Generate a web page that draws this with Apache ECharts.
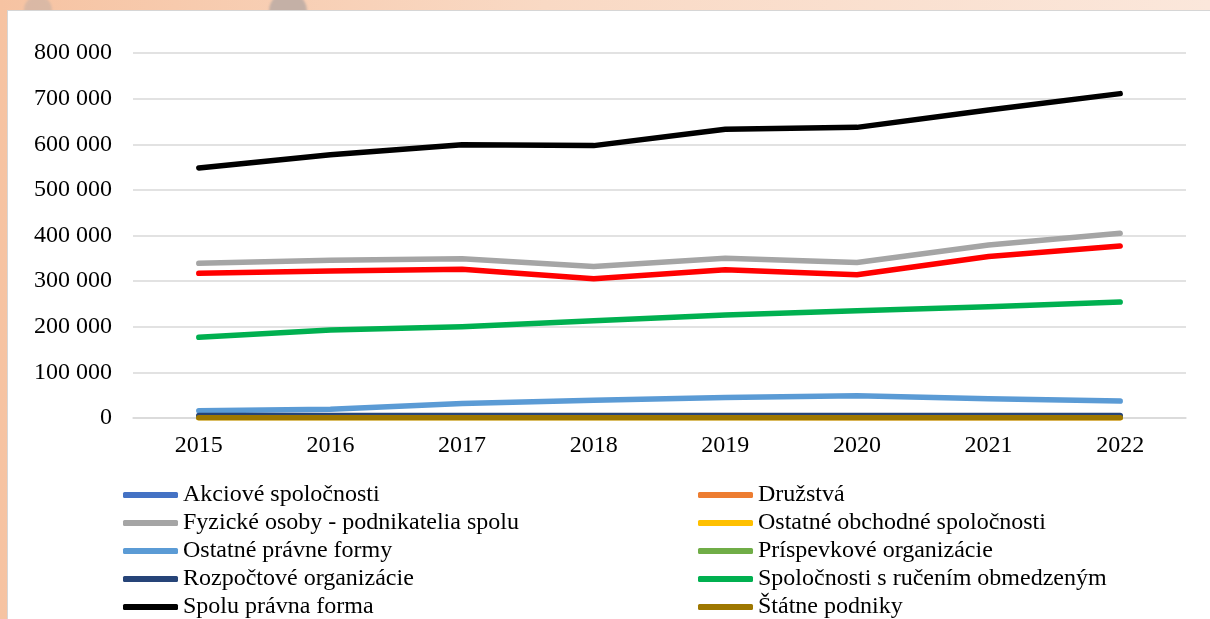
<!DOCTYPE html>
<html lang="sk">
<head>
<meta charset="utf-8">
<title>Počet subjektov podľa právnej formy 2015–2022</title>
<script src="https://cdn.jsdelivr.net/npm/echarts@6/dist/echarts.min.js"></script>
<style>
  html, body { margin: 0; padding: 0; }
  body {
    width: 1210px; height: 619px; overflow: hidden; position: relative;
    background: linear-gradient(90deg, #f6c3a2 0%, #f9d9c4 45%, #fbe7db 100%);
  }
  .blob { position: absolute; border-radius: 50%; background: #c4b0a6; filter: blur(1px); }
  .card {
    position: absolute; left: 7px; top: 10px; right: -2px; bottom: -2px;
    background: #ffffff; border: 1px solid #d6d6d6;
  }
  #chart { position: absolute; left: 0; top: 0; width: 1210px; height: 680px; }
</style>
</head>
<body>
<div class="blob" style="left:269px;top:-8px;width:38px;height:38px;"></div>
<div class="blob" style="left:24px;top:-4px;width:28px;height:28px;opacity:.55"></div>
<div class="card"></div>
<div id="chart"></div>
<script>
// Years on the category axis
const years = ['2015', '2016', '2017', '2018', '2019', '2020', '2021', '2022'];

// Value axis ticks
const yMin = 0;
const yMax = 800000;
const yStep = 100000;

// Series values per legal form
const akcioveSpolocnosti      = [3000, 3000, 3100, 3200, 3200, 3300, 3300, 3400];
const druzstva                = [1500, 1500, 1400, 1400, 1400, 1300, 1300, 1300];
const fyzickeOsobySpolu       = [339000, 346000, 349000, 332000, 350000, 341000, 379000, 405000];
const ostatneObchodne         = [600, 600, 600, 700, 700, 700, 700, 700];
const ostatnePravneFormy      = [16000, 19000, 32000, 39000, 45000, 49000, 42000, 37000];
const prispevkoveOrganizacie  = [2000, 2000, 2000, 2000, 2000, 2000, 2000, 2000];
const rozpoctoveOrganizacie   = [5500, 5500, 5600, 5600, 5600, 5700, 5700, 5700];
const spolocnostiSRO          = [177000, 193000, 200000, 213000, 226000, 235000, 244000, 254000];
const spoluPravnaForma        = [548000, 577000, 599000, 597000, 633000, 637000, 675000, 711000];
const statnePodniky           = [800, 800, 800, 800, 700, 700, 700, 700];
const fyzickeOsobyZivnostnici = [317000, 322000, 326000, 305000, 325000, 314000, 354000, 377000];

// Legend columns
const legendLeft  = ['Akciové spoločnosti', 'Fyzické osoby - podnikatelia spolu', 'Ostatné právne formy', 'Rozpočtové organizácie', 'Spolu právna forma'];
const legendRight = ['Družstvá', 'Ostatné obchodné spoločnosti', 'Príspevkové organizácie', 'Spoločnosti s ručením obmedzeným', 'Štátne podniky'];

const serif = "'Liberation Serif', 'Times New Roman', serif";

function line(name, data, color) {
  return {
    name: name,
    type: 'line',
    data: data,
    symbol: 'none',
    showSymbol: false,
    smooth: false,
    lineStyle: { color: color, width: 5.5, cap: 'round', join: 'round' },
    itemStyle: { color: color },
    emphasis: { disabled: true },
    animation: false
  };
}

const fmt = v => String(v).replace(/\B(?=(\d{3})+(?!\d))/g, ' ');

const legendCommon = {
  orient: 'vertical',
  icon: 'roundRect',
  itemWidth: 55,
  itemHeight: 6,
  itemGap: 0,
  padding: 0,
  selectedMode: false,
  textStyle: { fontFamily: serif, fontSize: 24, color: '#000', lineHeight: 28 }
};

const chart = echarts.init(document.getElementById('chart'), null, { renderer: 'canvas' });
chart.setOption({
  backgroundColor: 'transparent',
  animation: false,
  grid: { left: 133, right: 24, top: 53, height: 365 },
  xAxis: {
    type: 'category',
    data: years,
    boundaryGap: true,
    axisLine: { show: true, lineStyle: { color: '#d9d9d9', width: 1.5 } },
    axisTick: { show: false },
    axisLabel: { fontFamily: serif, fontSize: 24, color: '#000', margin: 16 }
  },
  yAxis: {
    type: 'value',
    min: yMin,
    max: yMax,
    interval: yStep,
    axisLine: { show: false },
    axisTick: { show: false },
    splitLine: { lineStyle: { color: '#d9d9d9', width: 1.5 } },
    axisLabel: { fontFamily: serif, fontSize: 24, color: '#000', margin: 21, formatter: fmt }
  },
  legend: [
    Object.assign({ left: 123, top: 481, data: legendLeft }, legendCommon),
    Object.assign({ left: 698, top: 481, data: legendRight }, legendCommon)
  ],
  series: [
    line('Akciové spoločnosti', akcioveSpolocnosti, '#4472C4'),
    line('Družstvá', druzstva, '#ED7D31'),
    line('Fyzické osoby - podnikatelia spolu', fyzickeOsobySpolu, '#A5A5A5'),
    line('Ostatné obchodné spoločnosti', ostatneObchodne, '#FFC000'),
    line('Ostatné právne formy', ostatnePravneFormy, '#5B9BD5'),
    line('Príspevkové organizácie', prispevkoveOrganizacie, '#70AD47'),
    line('Rozpočtové organizácie', rozpoctoveOrganizacie, '#264478'),
    line('Spoločnosti s ručením obmedzeným', spolocnostiSRO, '#00B050'),
    line('Spolu právna forma', spoluPravnaForma, '#000000'),
    line('Štátne podniky', statnePodniky, '#9E7700'),
    line('Fyzické osoby - živnostníci', fyzickeOsobyZivnostnici, '#FF0000')
  ]
});
</script>
</body>
</html>
